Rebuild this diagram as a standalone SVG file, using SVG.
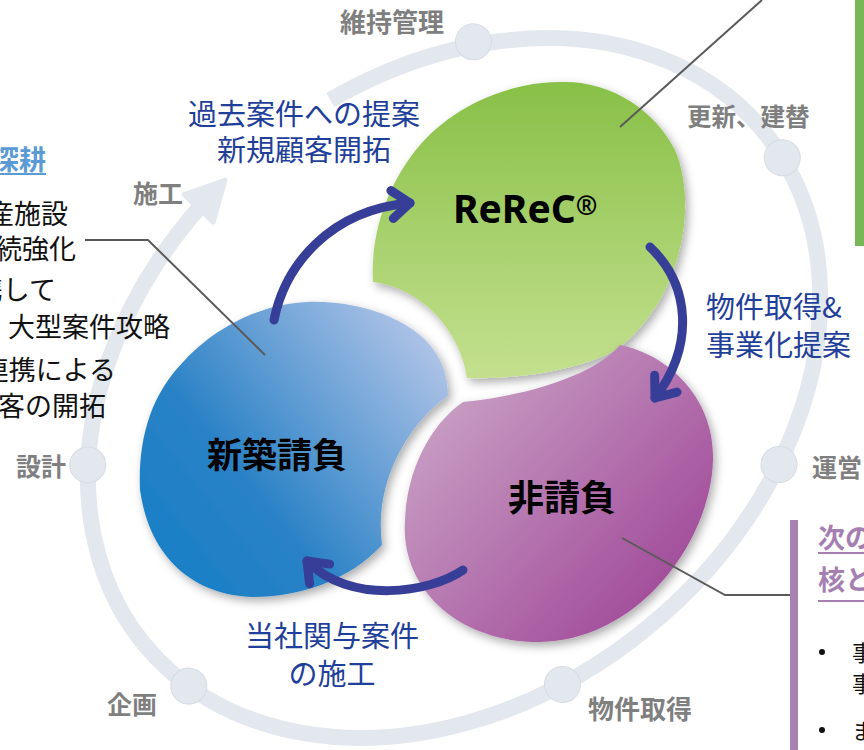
<svg xmlns="http://www.w3.org/2000/svg" width="864" height="750" viewBox="0 0 864 750">
<style>
.jp{font-family:"Noto Sans CJK JP","Noto Sans",sans-serif}
.ring-lbl{font-family:"Noto Sans CJK JP",sans-serif;font-weight:700;fill:#7f7f7f}
.flow{font-family:"Noto Sans CJK JP",sans-serif;fill:#1f409a;font-size:29px}
.node-t{font-family:"Noto Sans CJK JP",sans-serif;font-weight:700;fill:#000}
.body{font-family:"Noto Sans CJK JP",sans-serif;fill:#111;font-size:27px}
.lead{fill:none;stroke:#5a5a5a;stroke-width:2}
.arr{fill:none;stroke:#373e97;stroke-width:9;stroke-linecap:round}
.bead{fill:#e3e8ee;stroke:#d6dce4;stroke-width:1}
</style>
<defs>
<linearGradient id="gGreen" x1="0" y1="0" x2="0" y2="1">
<stop offset="0" stop-color="#88c047"/><stop offset="1" stop-color="#c4e08f"/>
</linearGradient>
<linearGradient id="gBlue" gradientUnits="userSpaceOnUse" x1="190" y1="540" x2="440" y2="340">
<stop offset="0" stop-color="#1f80c6"/><stop offset="0.25" stop-color="#2a82c6"/><stop offset="1" stop-color="#b3c5e8"/>
</linearGradient>
<linearGradient id="gPurple" gradientUnits="userSpaceOnUse" x1="450" y1="400" x2="690" y2="620">
<stop offset="0" stop-color="#c79cc2"/><stop offset="1" stop-color="#9d4396"/>
</linearGradient>
<filter id="sh" x="-20%" y="-20%" width="140%" height="140%">
<feDropShadow dx="3" dy="4" stdDeviation="5" flood-color="#000" flood-opacity="0.33"/>
</filter>
<marker id="chev" markerUnits="userSpaceOnUse" viewBox="-30 -30 60 60" markerWidth="60" markerHeight="60" refX="0" refY="0" orient="auto" overflow="visible">
<path d="M-18,-14 L0,0 L-18,14" fill="none" stroke="#373e97" stroke-width="9" stroke-linecap="round" stroke-linejoin="round"/>
</marker>
</defs>
<rect width="864" height="750" fill="#fff"/>

<!-- lifecycle ring -->
<g id="ring" transform="translate(454 388) rotate(-40)">
<path d="M90.4,-300.1 A402,308 0 1 1 -76.7,-302.3" fill="none" stroke="#e3e8ee" stroke-width="16"/>
<polygon points="-42,-306.3 -77.8,-281.9 -82.4,-321.7" fill="#e3e8ee" stroke="#e3e8ee" stroke-width="5" stroke-linejoin="round"/>
<circle class="bead" cx="237.4" cy="-252.7" r="18"/>
<circle class="bead" cx="399.5" cy="34.6" r="18"/>
<circle class="bead" cx="199.8" cy="267.5" r="18"/>
<circle class="bead" cx="-107.5" cy="296.8" r="18"/>
<circle class="bead" cx="-394.8" cy="57.9" r="18"/>
<circle class="bead" cx="-330" cy="-176.5" r="18"/>
</g>
<g id="ring-labels">
<text class="ring-lbl" x="392" y="32" font-size="26" text-anchor="middle">維持管理</text>
<text class="ring-lbl" x="687" y="126" font-size="24.5">更新、建替</text>
<text class="ring-lbl" x="812" y="477" font-size="25">運営</text>
<text class="ring-lbl" x="588" y="719" font-size="26">物件取得</text>
<text class="ring-lbl" x="107" y="714" font-size="25">企画</text>
<text class="ring-lbl" x="16" y="476" font-size="25">設計</text>
<text class="ring-lbl" x="133" y="203" font-size="25">施工</text>
</g>

<!-- nodes -->
<g id="node-rerec">
<path d="M560,82 C610,80 655,110 675,150 C692,190 688,250 660,300 C648,320 635,335 620,347 C590,368 520,380 467,378 C462,340 430,290 373,282 C370,230 390,180 420,145 C455,105 510,82 560,82 Z" fill="url(#gGreen)" filter="url(#sh)"/>
<text x="453" y="223" font-family="'Noto Sans','Liberation Sans',sans-serif" font-weight="700" font-size="39" fill="#000">ReReC<tspan font-size="26" dy="-8">®</tspan></text>
</g>
<g id="node-shinchiku">
<path d="M307,302 C360,300 420,320 440,360 C446,372 448,385 448,396 C420,415 395,450 385,490 C380,510 380,528 382,545 C350,580 300,597 253,597 C195,595 150,560 140,490 C138,440 150,395 185,360 C215,328 260,304 307,302 Z" fill="url(#gBlue)" filter="url(#sh)"/>
<text class="node-t" x="277" y="468" font-size="35" text-anchor="middle">新築請負</text>
</g>
<g id="node-hiukeoi">
<path d="M463,402 C510,398 590,380 620,345 C670,355 715,400 713,460 C711,540 640,640 540,642 C460,643 400,590 405,520 C407,470 430,425 463,402 Z" fill="url(#gPurple)" filter="url(#sh)"/>
<text class="node-t" x="562" y="511" font-size="36" text-anchor="middle">非請負</text>
</g>

<!-- connectors -->
<g id="connectors">
<path class="arr" d="M274,320 C285,265 330,210 410,203" marker-end="url(#chev)"/>
<path class="arr" d="M650,247 C690,285 695,345 655,398" marker-end="url(#chev)"/>
<path class="arr" d="M463,570 C430,593 350,605 307,561" marker-end="url(#chev)"/>
<polyline class="lead" points="85,240 148,240 265,355"/>
<polyline class="lead" points="620,127 762,0"/>
<polyline class="lead" points="622,538 725,595 790,595"/>
</g>

<!-- flow labels -->
<g id="flow-labels">
<text class="flow" x="304" y="125" text-anchor="middle">過去案件への提案</text>
<text class="flow" x="304" y="161" text-anchor="middle">新規顧客開拓</text>
<text class="flow" x="706" y="318" font-size="30">物件取得&amp;</text>
<text class="flow" x="706" y="356" font-size="30">事業化提案</text>
<text class="flow" x="332" y="647" text-anchor="middle">当社関与案件</text>
<text class="flow" x="332" y="685" text-anchor="middle">の施工</text>
</g>

<!-- left panel (cropped) -->
<g id="left-panel">
<text x="46" y="170" font-family="'Noto Sans CJK JP',sans-serif" font-weight="700" font-size="27" fill="#5b9bd5" text-anchor="end">深耕</text>
<line x1="0" y1="174" x2="46" y2="174" stroke="#5b9bd5" stroke-width="2"/>
<text class="body" x="68" y="224" text-anchor="end">産施設</text>
<text class="body" x="76" y="259" text-anchor="end">続強化</text>
<text class="body" x="56" y="300" text-anchor="end">携して</text>
<text class="body" x="170" y="337" text-anchor="end">大型案件攻略</text>
<text class="body" x="116" y="380" text-anchor="end">連携による</text>
<text class="body" x="106" y="416" text-anchor="end">客の開拓</text>
</g>

<!-- right panels (cropped) -->
<g id="right-green-panel">
<rect x="855" y="0" width="9" height="246" fill="#77b755"/>
</g>
<g id="right-purple-panel">
<rect x="790" y="520" width="8" height="230" fill="#a883b0"/>
<text x="818" y="548" font-family="'Noto Sans CJK JP',sans-serif" font-weight="700" font-size="27" fill="#a57fb2">次の</text>
<line x1="818" y1="553" x2="864" y2="553" stroke="#a57fb2" stroke-width="2"/>
<text x="818" y="590" font-family="'Noto Sans CJK JP',sans-serif" font-weight="700" font-size="27" fill="#a57fb2">核と</text>
<line x1="818" y1="601" x2="864" y2="601" stroke="#a57fb2" stroke-width="2"/>
<circle cx="822" cy="652" r="3" fill="#111"/>
<text class="jp" x="852" y="661" font-size="22" fill="#111">事</text>
<text class="jp" x="852" y="692" font-size="22" fill="#111">事</text>
<circle cx="822" cy="730" r="3" fill="#111"/>
<text class="jp" x="852" y="739" font-size="22" fill="#111">ま</text>
</g>
</svg>
